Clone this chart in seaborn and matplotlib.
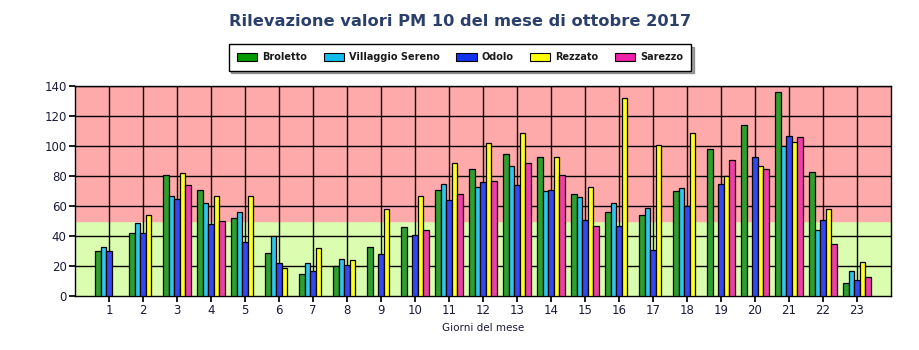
import numpy as np
import pandas as pd
import matplotlib
matplotlib.use("Agg")
import matplotlib.pyplot as plt
import seaborn as sns
from matplotlib.patches import Patch

nan = np.nan
giorni = [str(i) for i in range(1, 24)]
stazioni = ["Broletto", "Villaggio Sereno", "Odolo", "Rezzato", "Sarezzo"]

broletto = [30, 42, 81, 71, 52, 29, 15, 20, 33, 46, 71, 85, 95, 93, 68, 56, 54, 70, 98, 114, 136, 83, 9]
villaggio = [33, 49, 67, 62, 56, 40, 22, 25, nan, nan, 75, 73, 87, 70, 66, 62, 59, 72, nan, nan, 100, 44, 17]
odolo = [30, 42, 65, 48, 36, 22, 17, 21, 28, 41, 64, 76, 74, 71, 51, 47, 31, 60, 75, 93, 107, 51, 11]
rezzato = [nan, 54, 82, 67, 67, 19, 32, 24, 58, 67, 89, 102, 109, 93, 73, 132, 101, 109, 80, 87, 103, 58, 23]
sarezzo = [nan, nan, 74, 50, nan, nan, nan, nan, nan, 44, 68, 77, 89, 81, 47, nan, nan, nan, 91, 85, 106, 35, 13]

colori = ["#2E9E2E", "#33C4EE", "#3348EE", "#FFFF22", "#EE3FA8"]
colori_legenda = ["#009900", "#11BBEE", "#1133EE", "#FFFF00", "#EE22AA"]

rows = []
for nome, serie in zip(stazioni, [broletto, villaggio, odolo, rezzato, sarezzo]):
    for g, v in zip(giorni, serie):
        rows.append({"Giorno": g, "Stazione": nome, "Valore": v})
df = pd.DataFrame(rows)

sns.set_theme(style="white")
plt.rcParams["font.family"] = ["DejaVu Sans"]

fig = plt.figure(figsize=(9.2, 3.5), dpi=100)
ax = fig.add_axes([75/920, 54/350, 816/920, 210/350])

ax.axhspan(0, 50, color="#DAFDB0", zorder=0)
ax.axhspan(50, 140, color="#FFAAAA", zorder=0)

sns.barplot(data=df, x="Giorno", y="Valore", hue="Stazione", order=giorni,
            hue_order=stazioni, palette=colori, width=0.8, ax=ax,
            edgecolor="black", linewidth=0.9, errorbar=None, legend=False,
            saturation=1, zorder=3)

ax.set_xlim(-1, 23)
ax.set_ylim(0, 140)
ax.set_yticks(range(0, 141, 20))
ax.set_xticks(range(23))
ax.set_xticklabels(giorni)
for y in range(20, 141, 20):
    ax.axhline(y, color="black", linewidth=1, zorder=1)
for x in range(23):
    ax.axvline(x, color="black", linewidth=1, zorder=1)
for s in ax.spines.values():
    s.set_color("black")
    s.set_linewidth(1)
ax.tick_params(axis="both", which="both", length=4, color="black",
               labelsize=8.5, labelcolor="#1a1a3a", direction="out",
               left=True, bottom=True, pad=2)
ax.set_xlabel("Giorni del mese", fontsize=7.5, color="#1a1a3a", labelpad=4)
ax.set_ylabel("")

fig.text(0.5, 0.94, "Rilevazione valori PM 10 del mese di ottobre 2017",
         ha="center", va="center", fontsize=11.7, fontweight="bold", color="#2B3F6B")

handles = [Patch(facecolor=c, edgecolor="black", linewidth=0.8) for c in colori_legenda]
leg = fig.legend(handles, stazioni, loc="center", bbox_to_anchor=(0.5, 0.836),
                 ncol=5, frameon=True, fontsize=7, handlelength=2.1,
                 handleheight=1.0, columnspacing=1.7, handletextpad=0.5,
                 borderpad=0.85, fancybox=False, shadow=True)
leg.get_frame().set_edgecolor("black")
leg.get_frame().set_linewidth(1)
for t in leg.get_texts():
    t.set_fontweight("bold")
    t.set_color("#1a1a1a")

fig.savefig("out.png", dpi=100)
